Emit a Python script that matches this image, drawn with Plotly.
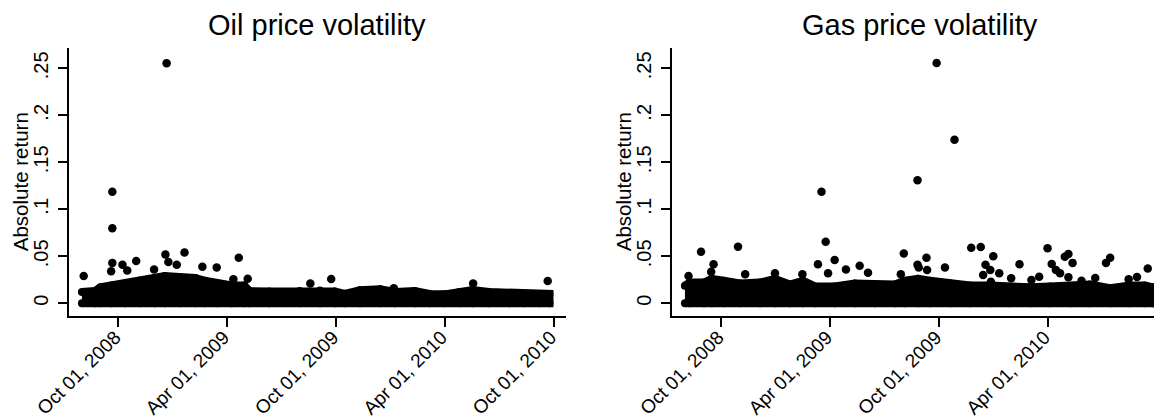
import plotly.graph_objects as go

# ---------------- data ----------------
tick_dates = ["2008-10-01", "2009-04-01", "2009-10-01", "2010-04-01", "2010-10-01"]
tick_labels = ["Oct 01, 2008", "Apr 01, 2009", "Oct 01, 2009", "Apr 01, 2010", "Oct 01, 2010"]
y_ticks = [0, 0.05, 0.1, 0.15, 0.2, 0.25]
y_tick_labels = ["0", ".05", ".1", ".15", ".2", ".25"]

# upper envelope of the dense cloud of daily absolute returns
oil_env_dates = ["2008-08-01", "2008-08-23", "2008-09-01", "2008-09-19", "2008-10-12", "2008-11-06",
                 "2008-12-01", "2008-12-18", "2009-01-12", "2009-02-07", "2009-02-23", "2009-03-17",
                 "2009-04-09", "2009-04-30", "2009-05-09", "2009-06-11", "2009-08-01", "2009-09-04",
                 "2009-09-29", "2009-10-16", "2009-11-10", "2009-12-14", "2010-01-08", "2010-02-10",
                 "2010-03-07", "2010-04-01", "2010-04-26", "2010-05-18", "2010-06-15", "2010-07-19",
                 "2010-08-13", "2010-09-07", "2010-09-24"]
oil_env_vals = [0.012, 0.013, 0.017, 0.019, 0.021, 0.024,
                0.027, 0.029, 0.028, 0.027, 0.024, 0.021,
                0.019, 0.019, 0.013, 0.0125, 0.013, 0.0135,
                0.0125, 0.010, 0.014, 0.015, 0.012, 0.013,
                0.010, 0.0095, 0.012, 0.014, 0.012, 0.011,
                0.0095, 0.0095, 0.010]

gas_env_dates = ["2008-08-01", "2008-08-09", "2008-09-02", "2008-09-15", "2008-10-05", "2008-11-01",
                 "2008-12-05", "2008-12-30", "2009-01-24", "2009-02-15", "2009-03-07", "2009-04-09",
                 "2009-05-13", "2009-06-16", "2009-07-19", "2009-08-05", "2009-08-27", "2009-09-16",
                 "2009-10-20", "2009-11-22", "2009-12-26", "2010-01-28", "2010-03-03", "2010-04-05",
                 "2010-05-09", "2010-06-11", "2010-07-15", "2010-08-17", "2010-09-11", "2010-09-24"]
gas_env_vals = [0.0187, 0.022, 0.022, 0.026, 0.024, 0.021,
                0.022, 0.026, 0.020, 0.024, 0.018, 0.018,
                0.021, 0.020, 0.020, 0.024, 0.026, 0.024,
                0.021, 0.019, 0.019, 0.017, 0.017, 0.018,
                0.018, 0.020, 0.016, 0.019, 0.019, 0.017]

# isolated observations above the cloud
oil_out_dates = ["2008-08-04", "2008-09-19", "2008-09-21", "2008-09-21", "2008-09-21", "2008-10-08",
                 "2008-10-16", "2008-10-31", "2008-11-30", "2008-12-19", "2008-12-21", "2008-12-24",
                 "2009-01-07", "2009-01-20", "2009-02-19", "2009-03-15", "2009-04-12", "2009-04-21",
                 "2009-05-06", "2009-08-19", "2009-09-23", "2010-01-06", "2010-05-19", "2010-09-21"]
oil_out_vals = [0.029, 0.034, 0.1187, 0.0798, 0.043, 0.041,
                0.035, 0.045, 0.036, 0.052, 0.2553, 0.044,
                0.041, 0.054, 0.039, 0.038, 0.0255, 0.0485,
                0.026, 0.021, 0.0259, 0.016, 0.021, 0.0237]

gas_out_dates = ["2008-08-07", "2008-08-28", "2008-09-14", "2008-09-18", "2008-10-29", "2008-11-10",
                 "2008-12-30", "2009-02-14", "2009-03-12", "2009-03-18", "2009-03-25", "2009-03-29",
                 "2009-04-09", "2009-04-28", "2009-05-21", "2009-06-04", "2009-07-29", "2009-08-03",
                 "2009-08-26", "2009-08-26", "2009-08-28", "2009-09-10", "2009-09-11", "2009-09-27",
                 "2009-10-11", "2009-10-27", "2009-11-24", "2009-12-10", "2009-12-14", "2009-12-18",
                 "2009-12-26", "2009-12-27", "2009-12-31", "2010-01-10", "2010-01-30", "2010-02-13",
                 "2010-03-05", "2010-03-18", "2010-04-01", "2010-04-08", "2010-04-15", "2010-04-22",
                 "2010-04-30", "2010-05-06", "2010-05-06", "2010-05-13", "2010-05-28", "2010-06-20",
                 "2010-07-08", "2010-07-15", "2010-08-15", "2010-08-29", "2010-09-16"]
gas_out_vals = [0.029, 0.0549, 0.0336, 0.0415, 0.0602, 0.031,
                0.032, 0.031, 0.0415, 0.1186, 0.0655, 0.032,
                0.046, 0.036, 0.040, 0.0326, 0.031, 0.053,
                0.131, 0.041, 0.038, 0.0485, 0.0354, 0.2556,
                0.038, 0.174, 0.059, 0.060, 0.030, 0.041,
                0.0354, 0.023, 0.050, 0.032, 0.0266, 0.0415,
                0.0248, 0.0283, 0.0585, 0.0418, 0.0354, 0.032,
                0.0496, 0.0524, 0.0277, 0.043, 0.024, 0.027,
                0.043, 0.0485, 0.0255, 0.028, 0.037]

# ---------------- figure ----------------
FONT = "Liberation Sans, Arial, Helvetica, sans-serif"
BLACK = "#000000"

# the page body has an 8px margin, so the figure starts at (8, 8) in the window
OFF = 8
W, H = 1162 - OFF, 419 - OFF


def px_x(p):
    return (p - OFF) / W


def px_y(p):
    return 1 - (p - OFF) / H


def band_trace(dates, vals, xa, ya):
    xs = list(dates) + list(reversed(dates))
    ys = list(vals) + [0.0] * len(vals)
    return go.Scatter(x=xs, y=ys, mode="lines+markers", fill="toself", fillcolor=BLACK,
                      line=dict(color=BLACK, width=8),
                      marker=dict(color=BLACK, size=8, line=dict(width=0)),
                      xaxis=xa, yaxis=ya, hoverinfo="skip", showlegend=False)


def points_trace(dates, vals, xa, ya):
    return go.Scatter(x=dates, y=vals, mode="markers",
                      marker=dict(color=BLACK, size=8.5, line=dict(width=0)),
                      xaxis=xa, yaxis=ya, showlegend=False)


fig = go.Figure()
fig.add_trace(band_trace(oil_env_dates, oil_env_vals, "x", "y"))
fig.add_trace(points_trace(oil_out_dates, oil_out_vals, "x", "y"))
fig.add_trace(band_trace(gas_env_dates, gas_env_vals, "x2", "y2"))
fig.add_trace(points_trace(gas_out_dates, gas_out_vals, "x2", "y2"))

ydom = [px_y(316), px_y(48.3)]
yr = [-0.01351, 0.27128]


def xaxis(domain, rng, anchor):
    return dict(domain=domain, range=rng, anchor=anchor, type="date", automargin=False,
                tickmode="array", tickvals=tick_dates, ticktext=tick_labels,
                tickangle=-45, ticks="outside", ticklen=9, tickwidth=1.7, tickcolor=BLACK,
                ticklabelstandoff=-8, ticklabelshift=-3,
                showline=True, linewidth=1.7, linecolor=BLACK, showgrid=False, zeroline=False,
                tickfont=dict(family=FONT, size=19, color=BLACK), fixedrange=True)


def yaxis(anchor):
    return dict(domain=ydom, range=yr, anchor=anchor, automargin=False,
                tickmode="array", tickvals=y_ticks, ticktext=y_tick_labels,
                tickangle=-90, ticks="outside", ticklen=9, tickwidth=1.7, tickcolor=BLACK,
                ticklabelstandoff=2,
                showline=True, linewidth=1.7, linecolor=BLACK, showgrid=False, zeroline=False,
                tickfont=dict(family=FONT, size=20, color=BLACK), fixedrange=True)


fig.update_layout(
    template="none",
    width=W, height=H,
    margin=dict(l=0, r=0, t=0, b=0, autoexpand=False),
    paper_bgcolor="white", plot_bgcolor="white",
    font=dict(family=FONT, color=BLACK),
    xaxis=xaxis([px_x(68.7), px_x(566)], ["2008-07-09 20:00", "2010-10-21 17:00"], "y"),
    xaxis2=xaxis([px_x(671.7), 1.0], ["2008-07-09 20:00", "2010-10-09 22:00"], "y2"),
    yaxis=yaxis("x"),
    yaxis2=yaxis("x2"),
    annotations=[
        dict(text="Oil price volatility", x=px_x(317.4), y=px_y(24.5), xref="paper", yref="paper",
             showarrow=False, xanchor="center", yanchor="middle",
             font=dict(family=FONT, size=29, color=BLACK)),
        dict(text="Gas price volatility", x=px_x(920.3), y=px_y(24.5), xref="paper", yref="paper",
             showarrow=False, xanchor="center", yanchor="middle",
             font=dict(family=FONT, size=29, color=BLACK)),
        dict(text="Absolute return", x=px_x(20), y=px_y(182.2), xref="paper", yref="paper",
             showarrow=False, xanchor="center", yanchor="middle", textangle=-90,
             font=dict(family=FONT, size=20.5, color=BLACK)),
        dict(text="Absolute return", x=px_x(623), y=px_y(182.2), xref="paper", yref="paper",
             showarrow=False, xanchor="center", yanchor="middle", textangle=-90,
             font=dict(family=FONT, size=20.5, color=BLACK)),
    ],
)

fig.write_html("out.html")
